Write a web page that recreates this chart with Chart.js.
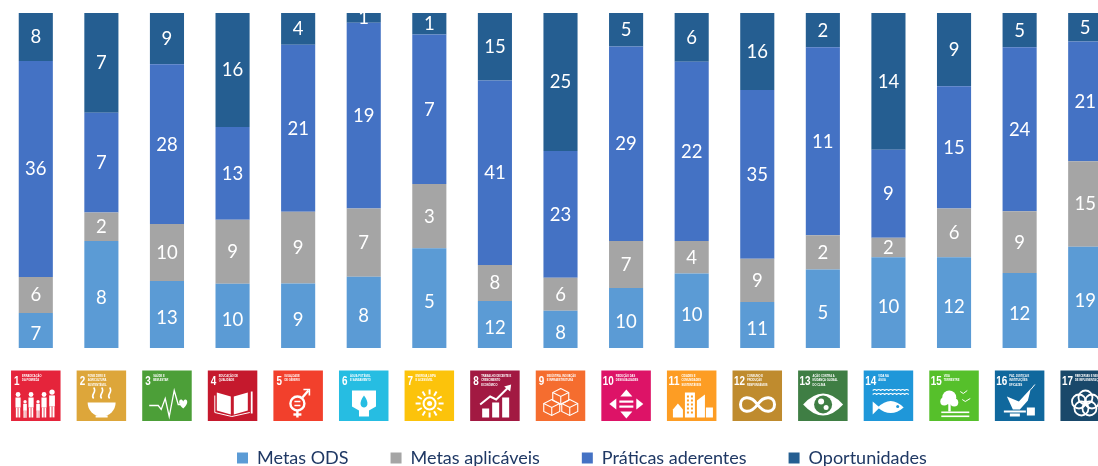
<!DOCTYPE html>
<html><head><meta charset="utf-8">
<style>html,body{margin:0;padding:0;background:#fff;overflow:hidden;width:1098px;height:466px}
#w{position:absolute;left:0;top:0;width:1120px;height:466px}</style>
<script src="https://cdn.jsdelivr.net/npm/chart.js@4"></script></head><body>
<div id="w"><canvas id="c"></canvas></div>
<script>
const categories=["1","2","3","4","5","6","7","8","9","10","11","12","13","14","15","16","17"];
const metasOds=[7,8,13,10,9,8,5,12,8,10,10,11,5,10,12,12,19];
const metasAplicaveis=[6,2,10,9,9,7,3,8,6,7,4,9,2,2,6,9,15];
const praticasAderentes=[36,7,28,13,21,19,7,41,23,29,22,35,11,9,15,24,21];
const oportunidades=[8,7,9,16,4,1,1,15,25,5,6,16,2,14,9,5,5];
const seriesNames=["Metas ODS","Metas aplicáveis","Práticas aderentes","Oportunidades"];
const seriesColors=["#5B9BD5","#A5A5A5","#4472C4","#255E91"];
const odsTitles=[["ERRADICAÇÃO","DA POBREZA"],["FOME ZERO E","AGRICULTURA","SUSTENTÁVEL"],["SAÚDE E","BEM-ESTAR"],["EDUCAÇÃO DE","QUALIDADE"],["IGUALDADE","DE GÉNERO"],["ÁGUA POTÁVEL","E SANEAMENTO"],["ENERGIA LIMPA","E ACESSÍVEL"],["TRABALHO DECENTE E","CRESCIMENTO","ECONÓMICO"],["INDÚSTRIA, INOVAÇÃO","E INFRAESTRUTURA"],["REDUÇÃO DAS","DESIGUALDADES"],["CIDADES E","COMUNIDADES","SUSTENTÁVEIS"],["CONSUMO E","PRODUÇÃO","RESPONSÁVEIS"],["AÇÃO CONTRA A","MUDANÇA GLOBAL","DO CLIMA"],["VIDA NA","ÁGUA"],["VIDA","TERRESTRE"],["PAZ, JUSTIÇA E","INSTITUIÇÕES","EFICAZES"],["PARCERIAS E MEIOS","DE IMPLEMENTAÇÃO"]];
const odsColors=["#E5243B","#DDA63A","#4C9F38","#C5192D","#F2402C","#26BDE2","#FCC30B","#A21942","#F56D2F","#DD1367","#FD9D24","#BF8B2E","#3F7E44","#1F97D9","#56C02B","#10689D","#19486A"];

const raw=[metasOds,metasAplicaveis,praticasAderentes,oportunidades];
const totals=categories.map((_,i)=>raw.reduce((s,a)=>s+a[i],0));

function circ(c,x,y,r,fill){c.beginPath();c.arc(x,y,r,0,Math.PI*2);fill?c.fill():c.stroke();}
function line(c,...p){c.beginPath();c.moveTo(p[0],p[1]);for(let i=2;i<p.length;i+=2)c.lineTo(p[i],p[i+1]);c.stroke();}
function poly(c,...p){c.beginPath();c.moveTo(p[0],p[1]);for(let i=2;i<p.length;i+=2)c.lineTo(p[i],p[i+1]);c.closePath();c.fill();}
const pictos=[
c=>{[[7,4,1],[14,3,.7],[20,4,1],[27,3,.7],[33,4,1],[41,4,1.1]].forEach(([x,r,s])=>{circ(c,x,47-24*s+1,2.4*s,true);c.fillRect(x-2.6*s,47-21*s+1,5.2*s,10*s);c.fillRect(x-2.2*s,47-11*s+1,1.8*s,10*s);c.fillRect(x+.4*s,47-11*s+1,1.8*s,10*s);});},
c=>{c.beginPath();c.arc(25,32,14,0,Math.PI);c.closePath();c.fill();c.fillRect(19,45,12,2);c.lineWidth=1.6;[17,25,33].forEach(x=>{c.beginPath();c.moveTo(x,28);c.bezierCurveTo(x-4,24,x+4,22,x,17);c.stroke();});},
c=>{c.lineWidth=1.3;line(c,7,35,16,35,19,39,23,28,27,46,32,20,36,34,39,34);c.beginPath();c.moveTo(41,38);c.bezierCurveTo(33,31,39,26,41,31);c.bezierCurveTo(43,26,49,31,41,38);c.fill();},
c=>{poly(c,9,22,23,26,23,44,9,40);poly(c,26,26,40,22,40,40,26,44);c.fillRect(43,21,1.8,22);c.lineWidth=1;line(c,7,25,7,42,24,46,42,42);},
c=>{c.lineWidth=2.4;circ(c,24,33,7);line(c,24,40,24,47);line(c,20,44,28,44);line(c,29,27,35,20);c.lineWidth=1.6;line(c,30,19,36,19,36,25);c.lineWidth=1.5;line(c,21,31,27,31);line(c,21,35,27,35);},
c=>{poly(c,13,20,37,20,37,36,30,40,30,46,20,46,20,40,13,36);c.fillStyle=odsColors[5];c.beginPath();c.moveTo(25,25);c.bezierCurveTo(19,33,22,37,25,37);c.bezierCurveTo(28,37,31,33,25,25);c.fill();},
c=>{c.lineWidth=2;circ(c,25,33,6);circ(c,25,33,2.5,true);for(let i=0;i<12;i++){const a=i*Math.PI/6,x=Math.cos(a),y=Math.sin(a);line(c,25+9*x,33+9*y,25+14*x,33+14*y);}},
c=>{c.fillRect(12,38,7,9);c.fillRect(22,32,7,15);c.fillRect(32,27,7,20);c.lineWidth=2;line(c,10,34,20,26,26,29,38,17);poly(c,34,16,41,14,40,21);},
c=>{c.lineWidth=1.1;[[25,25],[16,36],[34,36]].forEach(([x,y])=>{line(c,x,y-7,x+8,y-3,x+8,y+5,x,y+9,x-8,y+5,x-8,y-3,x,y-7);line(c,x-8,y-3,x,y+1,x+8,y-3);line(c,x,y+1,x,y+9);});},
c=>{c.fillRect(18,30,14,2.2);c.fillRect(18,35,14,2.2);poly(c,25,19,31,26,19,26);poly(c,25,48,31,41,19,41);poly(c,8,33.5,15,28,15,39);poly(c,42,33.5,35,28,35,39);},
c=>{c.fillRect(18,22,10,25);poly(c,30,47,30,30,38,24,38,47);c.fillRect(39,37,7,10);poly(c,6,47,6,39,11,33,16,39,16,47);c.fillStyle=odsColors[10];for(let y=25;y<44;y+=4){c.fillRect(20,y,2,2);c.fillRect(24,y,2,2);}},
c=>{c.lineWidth=3;c.beginPath();c.moveTo(25,34);c.bezierCurveTo(18,24,8,26,8,34);c.bezierCurveTo(8,42,18,44,25,34);c.bezierCurveTo(32,24,42,26,42,34);c.bezierCurveTo(42,42,32,44,25,34);c.stroke();},
c=>{c.beginPath();c.moveTo(5,34);c.quadraticCurveTo(25,12,45,34);c.quadraticCurveTo(25,56,5,34);c.fill();c.fillStyle=odsColors[12];circ(c,25,34,9,true);c.fillStyle="#fff";circ(c,23,31,3,true);circ(c,28,37,2.5,true);},
c=>{c.lineWidth=1.1;[20,24].forEach(y=>{c.beginPath();for(let x=9;x<=41;x+=4){c.moveTo(x,y);c.quadraticCurveTo(x+2,y-2,x+4,y);}c.stroke();});c.beginPath();c.moveTo(14,37);c.quadraticCurveTo(27,24,40,37);c.quadraticCurveTo(27,48,14,37);c.fill();poly(c,16,37,9,31,9,44);c.fillStyle=odsColors[13];circ(c,34,36,1.5,true);},
c=>{circ(c,20,27,7,true);circ(c,15,31,4,true);circ(c,25,32,4,true);c.fillRect(19,32,2.4,9);c.fillRect(12,41,28,1.6);c.fillRect(12,45,28,1.6);c.lineWidth=1;line(c,31,21,34,23,38,20);line(c,33,29,36,31,41,28);},
c=>{c.fillRect(9,40,22,2);c.fillRect(32,37,8,8);c.fillRect(15,43,10,3);poly(c,12,26,24,31,36,18,33,30,25,39,18,39);c.lineWidth=1;line(c,36,19,40,14);},
c=>{c.lineWidth=1.8;[[25,27],[31.5,31],[29,38],[21,38],[18.5,31]].forEach(([x,y])=>circ(c,x,y,7));}
];
const legendShift={id:"legendShift",afterLayout(ch){
  const l=ch.legend;l.left+=192;l.right+=192;l.top+=11;l.bottom+=11;
}};
const tilesPlugin={id:"tiles",afterDraw(ch){
  const c=ch.ctx,x=ch.scales.x,a=ch.chartArea;
  c.save();
  c.fillStyle="#fff";c.fillRect(0,348,ch.width,a.bottom-348+2);
  const W=49.5,H=50.5,Y=370.5;
  categories.forEach((n,i)=>{
    const L=x.getPixelForValue(i)-W/2;
    c.save();c.translate(L,Y);
    c.fillStyle=odsColors[i];c.fillRect(0,0,W,H);
    c.fillStyle="#fff";c.strokeStyle="#fff";
    c.textAlign="left";c.textBaseline="alphabetic";
    c.font="bold 13px 'Liberation Sans'";c.fillText(n,n.length>1?1.5:3,14,n.length>1?11:5.5);
    c.font="bold 3.6px 'Liberation Sans'";
    odsTitles[i].forEach((t,k)=>c.fillText(t,n.length>1?14.5:11,6.5+k*4.4,c.measureText(t).width*0.72));
    c.lineWidth=1.5;
    pictos[i](c);
    c.restore();
  });
  c.restore();
}};
const labelPlugin={id:"segLabels",afterDatasetsDraw(ch){
  const c=ch.ctx,a=ch.chartArea;
  c.save();c.beginPath();c.rect(0,a.top,ch.width,a.bottom-a.top);c.clip();
  c.fillStyle="#fff";c.font="18.5px Lato";c.textAlign="center";c.textBaseline="middle";
  ch.data.datasets.forEach((d,s)=>{
    ch.getDatasetMeta(s).data.forEach((b,i)=>{
      const p=b.getProps(["x","y","base"],true);
      c.fillText(String(raw[s][i]),p.x,(p.y+p.base)/2+0.5);
    });
  });
  c.restore();
}};
new Chart(document.getElementById("c"),{
  type:"bar",
  data:{labels:categories,datasets:raw.map((v,s)=>({
    label:seriesNames[s],
    data:v.map((n,i)=>n/totals[i]*100),
    backgroundColor:seriesColors[s],
    categoryPercentage:1,barPercentage:0.52
  }))},
  options:{
    responsive:true,maintainAspectRatio:false,animation:false,
    layout:{padding:{left:3,right:2,top:13,bottom:0}},
    plugins:{tooltip:{enabled:false},
      legend:{position:"bottom",align:"start",
        labels:{boxWidth:11,boxHeight:11,padding:42,color:"#1F3864",font:{family:"Lato",size:18}}}},
    scales:{
      x:{stacked:true,ticks:{display:false},grid:{display:false},border:{display:false},
         afterFit(s){s.height=41;}},
      y:{stacked:true,min:0,max:100,display:false}
    }
  },
  plugins:[labelPlugin,legendShift,tilesPlugin]
});
</script></body></html>
